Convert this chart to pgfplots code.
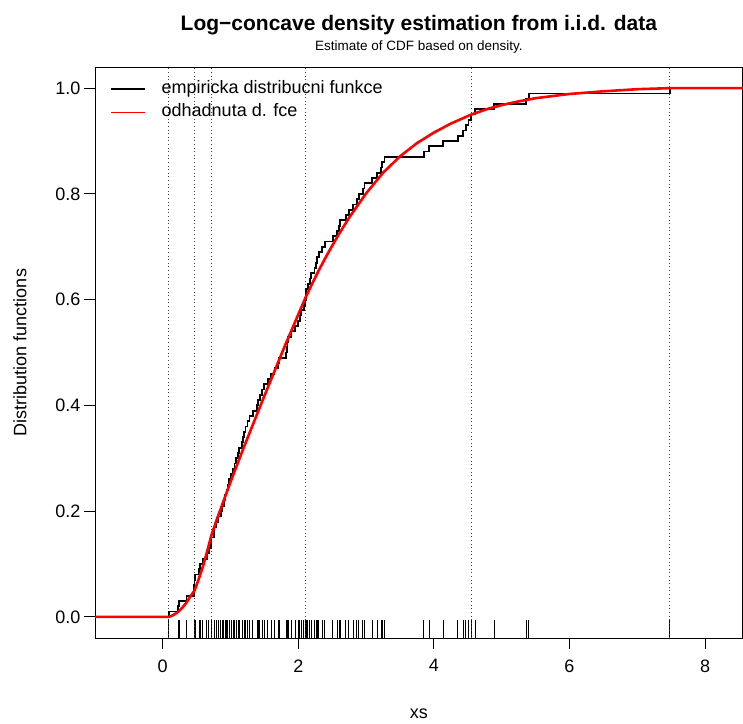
\documentclass[border=0pt]{standalone}
\usepackage{fontspec}
\setmainfont{Liberation Sans}
\usepackage{pgfplots}
\pgfplotsset{compat=1.18}
\pgfplotsset{legend image code/.code={\draw[#1,line width=1.5pt] plot coordinates {(0pt,0pt) (17pt,0pt) (34.3pt,0pt)};}}
\begin{document}
\begin{tikzpicture}[x=1pt,y=1pt]
\path[use as bounding box] (0,0) rectangle (743,723);
\begin{axis}[
  at={(95pt,85pt)}, anchor=south west,
  width=647.7pt, height=571pt, scale only axis,
  clip mode=individual,
  xmin=-0.9985, xmax=8.555, ymin=-0.04, ymax=1.04,
  axis line style={line width=0.9pt},
  tick style={line width=0.9pt, black},
  tick align=outside, tick pos=left, major tick length=11pt,
  xtick={0,2,4,6,8}, ytick={0,0.2,0.4,0.6,0.8,1.0},
  scaled y ticks=false,
  /pgf/number format/assume math mode=true,
  yticklabel style={/pgf/number format/.cd, fixed, fixed zerofill, precision=1, /tikz/.cd},
  xticklabel style={yshift=-7pt},
  tick label style={font=\fontsize{18}{21}\selectfont},
  label style={font=\fontsize{18}{21}\selectfont},
  xlabel={xs}, ylabel={Distribution functions},
  xlabel style={at={(axis description cs:0.5,0)}, anchor=center, yshift=-76pt},
  ylabel style={at={(axis description cs:-0.1158,0.5)}, anchor=center},
  legend cell align=left,
  legend entries={empiricka distribucni funkce, odhadnuta d. fce},
  legend style={draw=none, fill=none, at={(axis description cs:0,1)}, anchor=north west,
    xshift=15pt, yshift=-13.5pt, inner sep=0pt, font=\fontsize{18}{21}\selectfont,
    row sep=6.2pt, column sep=15.7pt,
    nodes={inner sep=0pt, text height=13pt, text depth=4pt}},
]
\addlegendimage{black}
\addlegendimage{red}
% rug
\addplot[forget plot, black, line width=0.75pt, no markers, quiver={u=0, v=0.0333}] coordinates {
(0.09,-0.04) (0.23,-0.04) (0.24,-0.04) (0.35,-0.04) (0.46,-0.04) (0.465,-0.04) (0.47,-0.04) (0.475,-0.04)
(0.54,-0.04) (0.55,-0.04) (0.59,-0.04) (0.65,-0.04) (0.68,-0.04) (0.715,-0.04) (0.72,-0.04) (0.76,-0.04) (0.765,-0.04)
(0.79,-0.04) (0.82,-0.04) (0.855,-0.04) (0.88,-0.04) (0.90,-0.04) (0.92,-0.04) (0.94,-0.04) (0.955,-0.04) (0.98,-0.04)
(1.01,-0.04) (1.04,-0.04) (1.06,-0.04) (1.08,-0.04) (1.11,-0.04) (1.13,-0.04) (1.17,-0.04) (1.18,-0.04) (1.20,-0.04)
(1.22,-0.04) (1.25,-0.04) (1.28,-0.04) (1.33,-0.04) (1.39,-0.04) (1.41,-0.04) (1.43,-0.04) (1.47,-0.04) (1.50,-0.04)
(1.55,-0.04) (1.60,-0.04) (1.65,-0.04) (1.70,-0.04) (1.715,-0.04) (1.82,-0.04) (1.83,-0.04) (1.84,-0.04) (1.85,-0.04)
(1.90,-0.04) (1.95,-0.04) (1.995,-0.04) (2.02,-0.04) (2.04,-0.04) (2.08,-0.04) (2.10,-0.04) (2.11,-0.04) (2.115,-0.04)
(2.14,-0.04) (2.17,-0.04) (2.19,-0.04) (2.24,-0.04) (2.26,-0.04) (2.28,-0.04) (2.30,-0.04) (2.35,-0.04) (2.39,-0.04)
(2.51,-0.04) (2.57,-0.04) (2.60,-0.04) (2.62,-0.04) (2.70,-0.04) (2.745,-0.04) (2.81,-0.04) (2.86,-0.04) (2.89,-0.04)
(2.95,-0.04) (2.975,-0.04) (3.09,-0.04) (3.16,-0.04) (3.22,-0.04) (3.24,-0.04) (3.27,-0.04) (3.85,-0.04) (3.93,-0.04)
(4.14,-0.04) (4.35,-0.04) (4.43,-0.04) (4.47,-0.04) (4.51,-0.04) (4.55,-0.04) (4.61,-0.04) (4.89,-0.04) (5.36,-0.04)
(5.40,-0.04) (7.48,-0.04)};
% knots (dotted)
\addplot[forget plot, black!75, line width=0.8pt, dash pattern=on 0.8pt off 2.8pt] coordinates {(0.09,-0.04) (0.09,1.04)};
\addplot[forget plot, black!75, line width=0.8pt, dash pattern=on 0.8pt off 2.8pt] coordinates {(0.47,-0.04) (0.47,1.04)};
\addplot[forget plot, black!75, line width=0.8pt, dash pattern=on 0.8pt off 2.8pt] coordinates {(0.72,-0.04) (0.72,1.04)};
\addplot[forget plot, black!75, line width=0.8pt, dash pattern=on 0.8pt off 2.8pt] coordinates {(2.11,-0.04) (2.11,1.04)};
\addplot[forget plot, black!75, line width=0.8pt, dash pattern=on 0.8pt off 2.8pt] coordinates {(4.55,-0.04) (4.55,1.04)};
\addplot[forget plot, black!75, line width=0.8pt, dash pattern=on 0.8pt off 2.8pt] coordinates {(7.48,-0.04) (7.48,1.04)};
% empirical CDF
\addplot[forget plot, black, line width=1.8pt, const plot, no markers] coordinates {
(-0.9985,0) (0.09,0.01) (0.23,0.02) (0.24,0.03) (0.35,0.04) (0.46,0.05) (0.465,0.06) (0.47,0.07) (0.475,0.08)
(0.54,0.09) (0.55,0.10) (0.59,0.11) (0.65,0.12) (0.68,0.13) (0.715,0.14) (0.72,0.15) (0.76,0.16) (0.765,0.17)
(0.79,0.18) (0.82,0.19) (0.855,0.20) (0.88,0.21) (0.90,0.22) (0.92,0.23) (0.94,0.24) (0.955,0.25) (0.98,0.26)
(1.01,0.27) (1.04,0.28) (1.06,0.29) (1.08,0.30) (1.11,0.31) (1.13,0.32) (1.17,0.33) (1.18,0.34) (1.20,0.35)
(1.22,0.36) (1.25,0.37) (1.28,0.38) (1.33,0.39) (1.39,0.40) (1.41,0.41) (1.43,0.42) (1.47,0.43) (1.50,0.44)
(1.55,0.45) (1.60,0.46) (1.65,0.47) (1.70,0.48) (1.715,0.49) (1.82,0.50) (1.83,0.51) (1.84,0.52) (1.85,0.53)
(1.90,0.54) (1.95,0.55) (1.995,0.56) (2.02,0.57) (2.04,0.58) (2.08,0.59) (2.10,0.60) (2.11,0.61) (2.115,0.62)
(2.14,0.63) (2.17,0.64) (2.19,0.65) (2.24,0.66) (2.26,0.67) (2.28,0.68) (2.30,0.69) (2.35,0.70) (2.39,0.71)
(2.51,0.72) (2.57,0.73) (2.60,0.74) (2.62,0.75) (2.70,0.76) (2.745,0.77) (2.81,0.78) (2.86,0.79) (2.89,0.80)
(2.95,0.81) (2.975,0.82) (3.09,0.83) (3.16,0.84) (3.22,0.85) (3.24,0.86) (3.27,0.87) (3.85,0.88) (3.93,0.89)
(4.14,0.90) (4.35,0.91) (4.43,0.92) (4.47,0.93) (4.51,0.94) (4.55,0.95) (4.61,0.96) (4.89,0.97) (5.36,0.98)
(5.40,0.99) (7.48,1.00) (8.555,1.00)};
% log-concave CDF estimate
\addplot[forget plot, red, line width=2.6pt, no markers] coordinates {
(-0.9985,0) (0.09,0) (0.15,0.003) (0.2,0.007) (0.25,0.012) (0.3,0.019) (0.35,0.027) (0.4,0.037) (0.47,0.050)
(0.53,0.071) (0.6,0.098) (0.66,0.126) (0.72,0.155) (0.8,0.185) (1.0,0.255) (1.2,0.322) (1.5,0.418) (1.8,0.512)
(2.11,0.605) (2.2,0.629) (2.3,0.655) (2.4,0.679) (2.5,0.702) (2.6,0.724) (2.75,0.755) (3.0,0.801) (3.25,0.840)
(3.5,0.871) (3.75,0.896) (4.0,0.916) (4.25,0.933) (4.55,0.950) (4.8,0.961) (5.0,0.968) (5.25,0.975) (5.5,0.981)
(5.75,0.985) (6.0,0.989) (6.5,0.994) (7.0,0.998) (7.48,1.0) (8.555,1.0)};
\node[font=\bfseries\fontsize{21}{25}\selectfont] at (axis description cs:0.5,1) [yshift=42pt] {Log−concave density estimation from i.i.d. data};
\node[font=\fontsize{13.5}{16}\selectfont] at (axis description cs:0.5,1) [yshift=19.5pt] {Estimate of CDF based on density.};
\end{axis}
\end{tikzpicture}
\end{document}
